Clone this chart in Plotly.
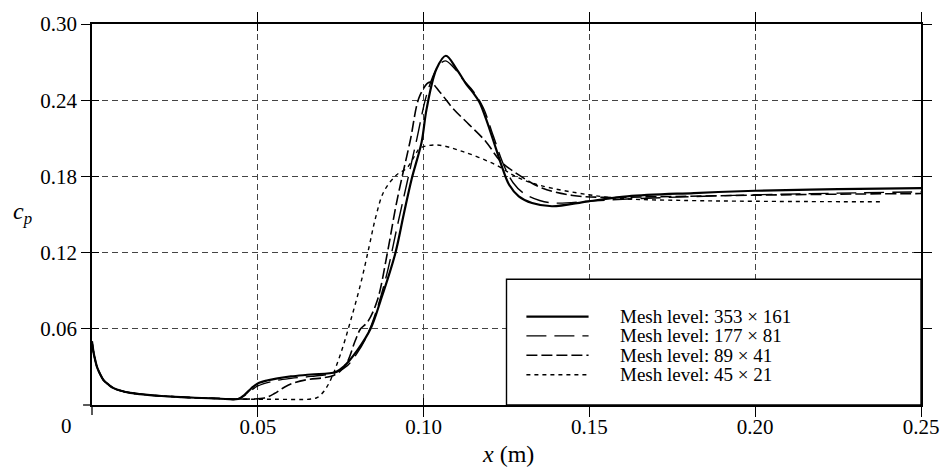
import plotly.graph_objects as go

# ---------------- data ----------------
common_x = [0.0, 0.0005, 0.001, 0.0015, 0.0025, 0.0035, 0.005, 0.0065, 0.009, 0.0115,
            0.016, 0.021, 0.027, 0.031, 0.038, 0.044]
common_y = [0.050, 0.041, 0.035, 0.030, 0.024, 0.0195, 0.016, 0.0133, 0.011, 0.0096,
            0.0082, 0.0071, 0.0062, 0.0057, 0.0051, 0.0047]

m353_x = common_x + [0.046, 0.048, 0.050, 0.053, 0.056, 0.060, 0.066, 0.0735, 0.076, 0.080,
                     0.084, 0.087, 0.0914, 0.094, 0.0964, 0.0994, 0.1009, 0.1039, 0.1067,
                     0.1099, 0.1128, 0.1148, 0.1168, 0.1188, 0.1218, 0.1238, 0.1258, 0.1287,
                     0.1327, 0.1387, 0.1497, 0.1615, 0.1815, 0.200, 0.225, 0.250]
m353_y = common_y + [0.008, 0.013, 0.017, 0.0195, 0.021, 0.0225, 0.024, 0.026, 0.0305, 0.043,
                     0.060, 0.082, 0.1187, 0.150, 0.178, 0.207, 0.233, 0.2647, 0.2750,
                     0.2647, 0.2529, 0.2464, 0.2386, 0.2255, 0.2021, 0.1864, 0.1734, 0.1643,
                     0.1590, 0.1565, 0.1604, 0.1643, 0.1669, 0.1687, 0.1700, 0.1708]

m177_x = common_x + [0.046, 0.048, 0.050, 0.055, 0.060, 0.066, 0.0735, 0.077, 0.080, 0.083,
                     0.086, 0.089, 0.092, 0.095, 0.098, 0.101, 0.104, 0.1065, 0.109, 0.112,
                     0.115, 0.118, 0.121, 0.124, 0.127, 0.130, 0.135, 0.140, 0.150, 0.160,
                     0.180, 0.200, 0.225, 0.250]
m177_y = common_y + [0.0075, 0.0115, 0.015, 0.019, 0.021, 0.0225, 0.0255, 0.031, 0.041, 0.055,
                     0.076, 0.104, 0.140, 0.175, 0.210, 0.245, 0.265, 0.2710, 0.2660, 0.2560,
                     0.2470, 0.2340, 0.2120, 0.1900, 0.1750, 0.1670, 0.1610, 0.1590, 0.1605, 0.1620,
                     0.1640, 0.1655, 0.1668, 0.1678]

m89_x = common_x + [0.048, 0.052, 0.055, 0.058, 0.061, 0.065, 0.070, 0.073, 0.075, 0.077,
                    0.0794, 0.081, 0.083, 0.086, 0.089, 0.0919, 0.0959, 0.0989, 0.1019, 0.1050,
                    0.1089, 0.1138, 0.1188, 0.1233, 0.1287, 0.1357, 0.145, 0.155, 0.170, 0.200,
                    0.225, 0.250]
m89_y = common_y + [0.0047, 0.0055, 0.009, 0.014, 0.0175, 0.020, 0.0215, 0.0235, 0.027, 0.034,
                    0.0508, 0.060, 0.065, 0.082, 0.1187, 0.160, 0.2073, 0.2438, 0.2542, 0.2460,
                    0.2334, 0.2206, 0.2073, 0.1917, 0.1812, 0.1708, 0.1650, 0.1635, 0.1640, 0.1652,
                    0.1660, 0.1665]

m45_x = common_x + [0.048, 0.055, 0.066, 0.068, 0.070, 0.072, 0.075, 0.078, 0.081, 0.0835,
                    0.0855, 0.088, 0.0919, 0.0949, 0.0975, 0.0988, 0.1039, 0.1119, 0.1218,
                    0.1278, 0.135, 0.1497, 0.160, 0.180, 0.200, 0.2376]
m45_y = common_y + [0.0045, 0.0045, 0.0047, 0.006, 0.011, 0.020, 0.0405, 0.0665, 0.0953, 0.1238,
                    0.1473, 0.168, 0.1813, 0.1864, 0.197, 0.202, 0.2047, 0.1995, 0.1890,
                    0.1799, 0.1730, 0.1656, 0.1625, 0.1610, 0.1604, 0.1600]

series_names = ["Mesh level: 353 × 161", "Mesh level: 177 × 81",
                "Mesh level: 89 × 41", "Mesh level: 45 × 21"]

x_tickvals = [0.05, 0.10, 0.15, 0.20, 0.25]
x_ticktext = ["0.05", "0.10", "0.15", "0.20", "0.25"]
y_tickvals = [0.06, 0.12, 0.18, 0.24, 0.30]
y_ticktext = ["0.06", "0.12", "0.18", "0.24", "0.30"]
origin_label = "0"

# ---------------- styling ----------------
FONT = "Liberation Serif, Tinos, Times New Roman, DejaVu Serif, serif"
styles = [
    dict(color="black", width=2.2, dash="solid"),
    dict(color="black", width=1.4, dash="20px,8px"),
    dict(color="black", width=1.6, dash="11px,4px"),
    dict(color="black", width=1.4, dash="4px,4px"),
]

fig = go.Figure()
for (xs, ys), name, st in zip([(m353_x, m353_y), (m177_x, m177_y), (m89_x, m89_y), (m45_x, m45_y)],
                               series_names, styles):
    fig.add_trace(go.Scatter(x=xs, y=ys, mode="lines", name=name, line=st,
                             showlegend=False, line_shape="spline"))

# helper trace so the overlay (inside-tick) axes are drawn
fig.add_trace(go.Scatter(x=[None], y=[None], xaxis="x2", yaxis="y2",
                         showlegend=False, hoverinfo="skip"))

axis_common = dict(showline=True, linecolor="black", linewidth=1.5, mirror="ticks",
                   ticks="outside", tickcolor="black", tickwidth=1.3,
                   tickfont=dict(family=FONT, size=21, color="black"),
                   gridcolor="#444", griddash="6px,4px", gridwidth=1, zeroline=False)

fig.update_layout(
    width=951, height=472,
    margin=dict(l=92, r=23, t=22, b=67),
    paper_bgcolor="white", plot_bgcolor="white",
    xaxis=dict(range=[0, 0.25], tickvals=x_tickvals, ticktext=x_ticktext,
               ticklen=10, showgrid=True, ticklabelstandoff=-8, **axis_common),
    yaxis=dict(range=[0, 0.30], tickvals=y_tickvals, ticktext=y_ticktext,
               ticklen=9, showgrid=True, ticklabelstandoff=0, **axis_common),
    xaxis2=dict(range=[0, 0.25], overlaying="x", anchor="y2", tickvals=x_tickvals,
                ticks="inside", ticklen=7, tickcolor="black", tickwidth=1.3,
                showticklabels=False, showgrid=False, zeroline=False,
                showline=False, mirror="ticks"),
    yaxis2=dict(range=[0, 0.30], overlaying="y", anchor="x2", tickvals=y_tickvals,
                ticks="inside", ticklen=7, tickcolor="black", tickwidth=1.3,
                showticklabels=False, showgrid=False, zeroline=False,
                showline=False, mirror="ticks"),
    showlegend=False,
)

# origin ticks (axis extensions at the corner)
fig.add_shape(type="line", xref="paper", yref="paper", x0=0, x1=0, y0=0, y1=-10 / 383.3,
              line=dict(color="black", width=1.3))
fig.add_shape(type="line", xref="paper", yref="paper", x0=0, x1=-9 / 836, y0=0, y1=0,
              line=dict(color="black", width=1.3))

# axis titles and shared origin label
fig.add_annotation(text="<i>x</i> (m)", xref="paper", yref="paper", x=0.5024, y=-0.128,
                   xanchor="center", yanchor="middle", showarrow=False,
                   font=dict(family=FONT, size=24, color="black"))
fig.add_annotation(text="<i>c</i><sub><i>p</i></sub>", xref="paper", yref="paper",
                   x=-0.098, y=0.505, xanchor="left", yanchor="middle", showarrow=False,
                   font=dict(family=FONT, size=24, color="black"))
fig.add_annotation(text=origin_label, xref="paper", yref="paper", x=-0.0311, y=-0.0548,
                   xanchor="center", yanchor="middle", showarrow=False,
                   font=dict(family=FONT, size=21, color="black"))

# legend box
fig.add_shape(type="rect", xref="paper", yref="paper", x0=0.5, x1=1.0, y0=0.0, y1=0.33,
              line=dict(color="black", width=1.4), fillcolor="white", layer="above")
row_px = [316, 335.5, 355, 374.5]
for i, (name, st) in enumerate(zip(series_names, styles)):
    yp = (405 - row_px[i]) / 383.3
    fig.add_shape(type="line", xref="paper", yref="paper", x0=0.524, x1=0.599, y0=yp, y1=yp,
                  line=dict(color="black", width=st["width"], dash=st["dash"]), layer="above")
    fig.add_annotation(text=name, xref="paper", yref="paper", x=0.634, y=yp,
                       xanchor="left", yanchor="middle", showarrow=False,
                       font=dict(family=FONT, size=19, color="black"))

fig.write_html("out.html")
